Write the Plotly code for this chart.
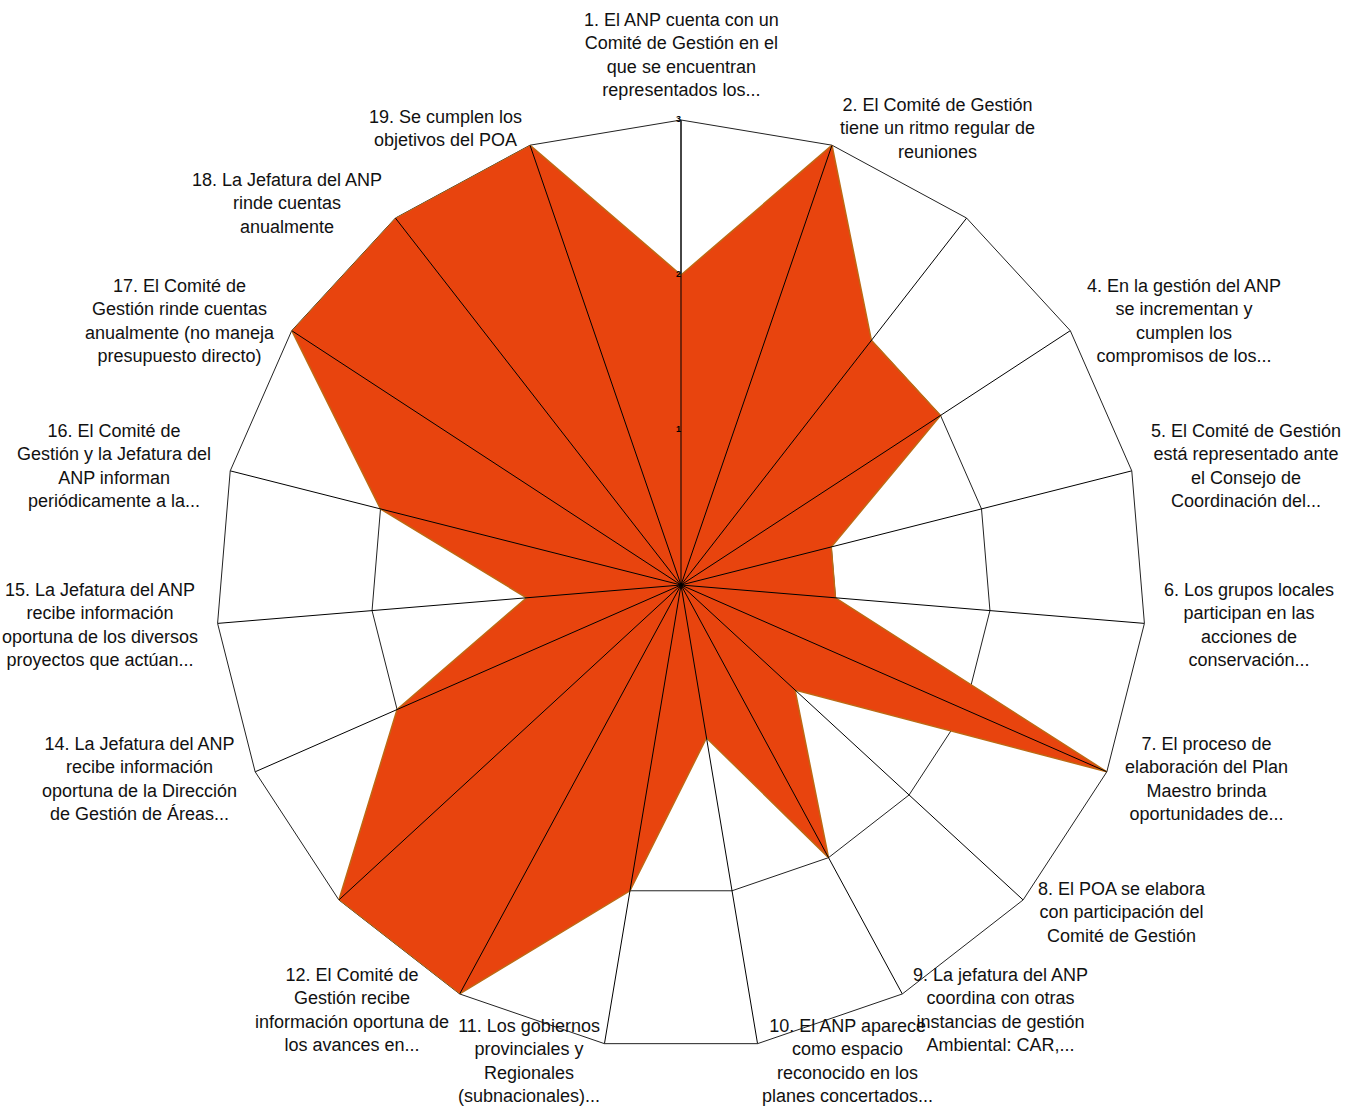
import math
import plotly.graph_objects as go

# indicadores (3 y 13 sin etiqueta visible en el original)
codes = [str(i) for i in range(1, 20)]
labels = [
    "1. El ANP cuenta con un<br>Comité de Gestión en el<br>que se encuentran<br>representados los...",
    "2. El Comité de Gestión<br>tiene un ritmo regular de<br>reuniones",
    "",
    "4. En la gestión del ANP<br>se incrementan y<br>cumplen los<br>compromisos de los...",
    "5. El Comité de Gestión<br>está representado ante<br>el Consejo de<br>Coordinación del...",
    "6. Los grupos locales<br>participan en las<br>acciones de<br>conservación...",
    "7. El proceso de<br>elaboración del Plan<br>Maestro brinda<br>oportunidades de...",
    "8. El POA se elabora<br>con participación del<br>Comité de Gestión",
    "9. La jefatura del ANP<br>coordina con otras<br>instancias de gestión<br>Ambiental: CAR,...",
    "10. El ANP aparece<br>como espacio<br>reconocido en los<br>planes concertados...",
    "11. Los gobiernos<br>provinciales y<br>Regionales<br>(subnacionales)...",
    "12. El Comité de<br>Gestión recibe<br>información oportuna de<br>los avances en...",
    "",
    "14. La Jefatura del ANP<br>recibe información<br>oportuna de la Dirección<br>de Gestión de Áreas...",
    "15. La Jefatura del ANP<br>recibe información<br>oportuna de los diversos<br>proyectos que actúan...",
    "16. El Comité de<br>Gestión y la Jefatura del<br>ANP informan<br>periódicamente a la...",
    "17. El Comité de<br>Gestión rinde cuentas<br>anualmente (no maneja<br>presupuesto directo)",
    "18. La Jefatura del ANP<br>rinde cuentas<br>anualmente",
    "19. Se cumplen los<br>objetivos del POA",
]
scores = [2, 3, 2, 2, 1, 1, 3, 1, 2, 1, 2, 3, 3, 2, 1, 2, 3, 3, 3]
radial_ticks = [1, 2, 3]

n = len(codes)
rmax = max(radial_ticks)

W, H = 1356, 1111
side = 930
ml, mt = 216, 120
mr, mb = W - ml - side, H - mt - side

font_family = "Liberation Sans Narrow, Arial Narrow, Liberation Sans, Arial, sans-serif"

fig = go.Figure()

# area rellena
fig.add_trace(go.Scatterpolar(
    r=scores + [scores[0]], theta=codes + [codes[0]],
    mode="lines", fill="toself",
    fillcolor="rgb(232,68,14)",
    line=dict(color="rgb(190,105,20)", width=1.5),
    hoverinfo="skip", showlegend=False,
))

# radios encima del relleno
spoke_r = []
spoke_t = []
for c in codes:
    spoke_r += [0, rmax, None]
    spoke_t += [c, c, None]
fig.add_trace(go.Scatterpolar(
    r=spoke_r, theta=spoke_t, mode="lines",
    line=dict(color="black", width=1),
    hoverinfo="skip", showlegend=False,
))

# etiquetas del eje radial sobre el relleno
fig.add_trace(go.Scatterpolar(
    r=radial_ticks, theta=[codes[0]] * len(radial_ticks), mode="text",
    text=["<b>%d</b>" % v for v in radial_ticks], textposition="middle left",
    textfont=dict(size=9, color="black", family="Liberation Sans, Arial"),
    hoverinfo="skip", showlegend=False,
))

# punto central
fig.add_trace(go.Scatterpolar(
    r=[0], theta=[codes[0]], mode="markers",
    marker=dict(color="black", size=11),
    hoverinfo="skip", showlegend=False,
))

# etiquetas de categoria, centradas por linea como en Excel
pad = 18.0 / side
annotations = []
for i, txt in enumerate(labels):
    if not txt:
        continue
    ang = math.radians(90 - i * 360.0 / n)
    cx, cy = math.cos(ang), math.sin(ang)
    x = 0.5 + (0.5 + pad) * cx
    y = 0.5 + (0.5 + pad) * cy
    if abs(cx) < 0.1:
        xa, ya = "center", ("bottom" if cy > 0 else "top")
    else:
        xa, ya = ("left" if cx > 0 else "right"), "middle"
    annotations.append(dict(
        x=x, y=y, xref="paper", yref="paper", text=txt, showarrow=False,
        xanchor=xa, yanchor=ya, align="center",
        font=dict(size=18, color="#111", family=font_family),
    ))

fig.update_layout(
    width=W, height=H,
    margin=dict(l=ml, r=mr, t=mt, b=mb),
    paper_bgcolor="white",
    font=dict(family=font_family, color="#111"),
    annotations=annotations,
    polar=dict(
        bgcolor="white",
        gridshape="linear",
        domain=dict(x=[0, 1], y=[0, 1]),
        radialaxis=dict(
            range=[0, rmax], tickvals=radial_ticks, angle=90,
            showticklabels=False,
            showline=True, linecolor="#666", linewidth=1.5,
            gridcolor="#222", gridwidth=1, ticks="",
            layer="below traces",
        ),
        angularaxis=dict(
            type="category", categoryarray=codes,
            direction="clockwise", rotation=90,
            showticklabels=False,
            showline=True, linecolor="#222", linewidth=1,
            showgrid=False, ticks="",
            layer="below traces",
        ),
    ),
)

# sin margen del body para que el lienzo ocupe toda la ventana
fig.write_html(
    "out.html",
    config={"displayModeBar": False},
    post_script="document.body.style.margin='0';document.body.style.overflow='hidden';",
)
